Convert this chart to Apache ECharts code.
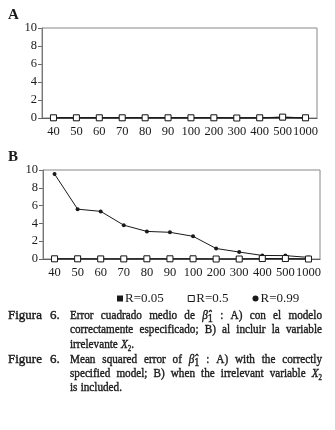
<!DOCTYPE html>
<html><head><meta charset="utf-8">
<script src="https://cdn.jsdelivr.net/npm/echarts@6/dist/echarts.min.js"></script>
<style>html,body{margin:0;padding:0;background:#fff}#c{width:335px;height:430px}</style>
</head><body><div id="c"></div>
<script>
const categories = ['40','50','60','70','80','90','100','200','300','400','500','1000'];
const seriesNames = ['R=0.05','R=0.5','R=0.99'];
// Panel A: correctly specified model
const A_r005 = [0.02,0.02,0.02,0.02,0.02,0.02,0.02,0.02,0.0,0.02,0.08,0.02];
const A_r05  = [0.02,0.02,0.02,0.02,0.02,0.02,0.02,0.02,0.0,0.02,0.1,0.02];
const A_r099 = [0.03,0.03,0.03,0.03,0.03,0.03,0.03,0.03,0.02,0.03,0.05,0.02];
// Panel B: irrelevant variable included
const B_r005 = [0.02,0.02,0.01,0.01,0.02,0.02,0.02,0.0,0.0,0.02,0.02,0.0];
const B_r05  = [0.02,0.02,0.01,0.01,0.02,0.02,0.02,0.0,0.0,0.05,0.05,0.0];
const B_r099 = [9.55,5.6,5.35,3.8,3.1,3.0,2.55,1.18,0.78,0.4,0.38,0.18];
const yTicks = [0,2,4,6,8,10];

const FONT = 'Liberation Serif';
const INK = '#1a1a1a';
const chart = echarts.init(document.getElementById('c'), null, {renderer:'canvas'});

function xAxis(gi){
  return {type:'category', gridIndex:gi, data:categories, boundaryGap:true,
    axisLine:{show:true, lineStyle:{color:'#333', width:1}},
    axisTick:{show:false},
    axisLabel:{color:INK, fontFamily:FONT, fontSize:12.5, margin:7, interval:0},
    splitLine:{show:false}};
}
function yAxis(gi){
  return {type:'value', gridIndex:gi, min:yTicks[0], max:yTicks[yTicks.length-1], interval:2,
    axisLine:{show:true, lineStyle:{color:'#666'}},
    axisTick:{show:true, length:4, lineStyle:{color:'#666'}},
    axisLabel:{color:INK, fontFamily:FONT, fontSize:12.5, margin:5},
    splitLine:{show:false}};
}
function s(name, data, gi, kind){
  const base = {name, type:'line', xAxisIndex:gi, yAxisIndex:gi, data, z:3,
    lineStyle:{color:INK, width:1}, emphasis:{disabled:true}, silent:true};
  if(kind==='dot'){ Object.assign(base,{symbol:'circle', symbolSize:4, itemStyle:{color:INK}, z:2}); }
  if(kind==='black'){ Object.assign(base,{symbol:'rect', symbolSize:6, itemStyle:{color:INK}, z:3}); }
  if(kind==='white'){ Object.assign(base,{symbol:'rect', symbolSize:6, itemStyle:{color:'#fff', borderColor:INK, borderWidth:1}, z:4}); }
  return base;
}

// caption: each line = list of words; each word = list of [text, style]
const FS = 13;
const SX = 0.86; // horizontal condensing to mimic the narrower book face
const BOLDEN = {stroke:INK, lineWidth:0.4};
const styles = {
  n:{font: FS+'px "'+FONT+'"'},
  b:{font: 'italic '+FS+'px "'+FONT+'"'},
  s:{font: '12px "'+FONT+'"'},
  i:{font: 'italic '+FS+'px "'+FONT+'"'},
  sub:{font: '8px "'+FONT+'"'}
};
const rich = {
  b:Object.assign({fontFamily:FONT, fontSize:FS, fontStyle:'italic', fill:INK}, BOLDEN),
  s:Object.assign({fontFamily:FONT, fontSize:12, fill:INK, padding:[5,0,0,0]}, BOLDEN),
  i:Object.assign({fontFamily:FONT, fontSize:FS, fontStyle:'italic', fill:INK}, BOLDEN),
  sub:Object.assign({fontFamily:FONT, fontSize:8, fill:INK, padding:[7,0,0,0]}, BOLDEN),
  n:Object.assign({fontFamily:FONT, fontSize:FS, fill:INK}, BOLDEN)
};
function W(t){ return t.split(' ').map(w=>[[w,'n']]); }
const captionLines = [
  {x:70, y:316, justify:true, words:[...W('Error cuadrado medio de'), [['β̂','b'],['1','s']], ...W(': A) con el modelo')]},
  {x:70, y:330, justify:true, words:W('correctamente especificado; B) al incluir la variable')},
  {x:70, y:345, justify:false, words:[...W('irrelevante'), [['X','i'],['2','sub'],['.','n']]]},
  {x:70, y:360, justify:true, words:[...W('Mean squared error of'), [['β̂','b'],['1','s']], ...W(': A) with the correctly')]},
  {x:70, y:374, justify:true, words:[...W('specified model; B) when the irrelevant variable'), [['X','i'],['2','sub']]]},
  {x:70, y:388, justify:false, words:W('is included.')}
];
const labels = [{x:8, y:316, t:'Figura'}, {x:50, y:316, t:'6.'}, {x:8, y:360, t:'Figure'}, {x:50, y:360, t:'6.'}];
const RIGHT = 322;

const ctx = document.createElement('canvas').getContext('2d');
function measure(word){
  let w=0; word.forEach(([t,st])=>{ ctx.font = styles[st].font; w += ctx.measureText(t).width; }); return w*SX;
}
function richStr(word){
  return word.map(([t,st])=> '{'+st+'|'+t+'}').join('');
}

const graphics = [
  {type:'text', left:8, top:8, style:{text:'A', font:'bold 15px "'+FONT+'"', fill:INK}},
  {type:'text', left:8, top:150, style:{text:'B', font:'bold 15px "'+FONT+'"', fill:INK}},
  {type:'rect', shape:{x:42, y:28, width:275, height:90}, style:{fill:'none', stroke:'#888', lineWidth:1}, z:1},
  {type:'rect', shape:{x:43, y:170, width:277, height:89}, style:{fill:'none', stroke:'#888', lineWidth:1}, z:1}
];
labels.forEach(l=>graphics.push({type:'text', x:l.x, y:l.y, scaleX:1.0, style:{text:l.t, font:FS+'px "'+FONT+'"', fill:INK, verticalAlign:'middle', stroke:INK, lineWidth:0.4}}));
captionLines.forEach(l=>{
  const widths = l.words.map(measure);
  const total = widths.reduce((a,b)=>a+b,0);
  const gap = (l.justify && l.words.length>1) ? (RIGHT - l.x - total)/(l.words.length-1) : 3.2;
  let x = l.x;
  l.words.forEach((w,k)=>{
    graphics.push({type:'text', x:x, y:l.y, scaleX:SX, style:{text:richStr(w), rich, verticalAlign:'middle', fill:INK}});
    x += widths[k] + gap;
  });
});

chart.setOption({
  animation:false,
  backgroundColor:'#fff',
  grid:[{left:42, top:28, width:275, height:90}, {left:43, top:170, width:277, height:89}],
  xAxis:[xAxis(0), xAxis(1)],
  yAxis:[yAxis(0), yAxis(1)],
  legend:{top:287, left:112, itemGap:24, itemWidth:6, itemHeight:6,
    textStyle:{fontFamily:FONT, fontSize:13, color:INK, padding:[0,0,0,-3]},
    data:[
      {name:'R=0.05', icon:'rect', itemStyle:{color:INK}},
      {name:'R=0.5', icon:'rect', itemStyle:{color:'#fff', borderColor:INK, borderWidth:1}},
      {name:'R=0.99', icon:'circle', itemStyle:{color:INK}}
    ]},
  series:[
    s('R=0.99', A_r099, 0, 'dot'), s('R=0.05', A_r005, 0, 'black'), s('R=0.5', A_r05, 0, 'white'),
    s('R=0.99', B_r099, 1, 'dot'), s('R=0.05', B_r005, 1, 'black'), s('R=0.5', B_r05, 1, 'white')
  ],
  graphic:graphics
});
</script></body></html>
